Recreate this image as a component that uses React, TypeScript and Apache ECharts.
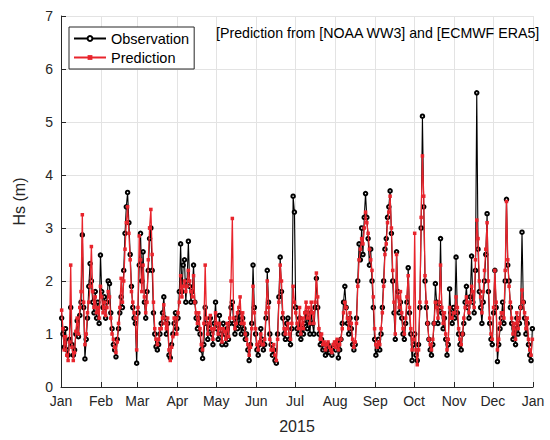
import React, { useEffect, useRef } from 'react';
import * as echarts from 'echarts';

// Month start positions (day of year) and their labels
const monthTicks = [0, 31, 59, 90, 120, 151, 181, 212, 243, 273, 304, 334, 365];
const monthLabels = ['Jan', 'Feb', 'Mar', 'Apr', 'May', 'Jun', 'Jul', 'Aug', 'Sep', 'Oct', 'Nov', 'Dec', 'Jan'];

// Daily significant wave height (m), 2015 - observation
const obsHs = [
  // Jan
  1.30, 1.00, 0.75, 1.10, 0.70, 0.60, 0.90, 1.50, 0.80, 0.60, 0.70, 1.00, 1.25, 0.95, 1.35, 1.60, 2.87, 1.50, 0.53, 0.90, 1.30, 1.90, 2.33, 2.00, 1.60, 1.40, 1.80, 1.30, 1.60, 1.20, 2.49,
  // Feb
  1.80, 1.50, 1.70, 1.30, 1.60, 2.00, 1.95, 1.40, 1.10, 0.80, 0.70, 0.57, 0.90, 1.10, 1.40, 1.70, 1.50, 2.20, 2.90, 3.40, 3.67, 3.10, 2.50, 1.90, 1.50, 1.30, 1.20, 0.45,
  // Mar
  1.40, 2.30, 2.90, 2.00, 2.55, 1.60, 1.30, 1.80, 2.20, 2.80, 3.00, 2.20, 1.40, 1.00, 0.76, 0.70, 0.80, 1.00, 1.20, 1.40, 1.70, 1.30, 1.00, 1.20, 0.60, 0.55, 0.80, 1.00, 1.20, 1.40, 1.10,
  // Apr
  1.30, 1.80, 2.70, 1.80, 2.30, 2.40, 1.60, 2.00, 2.75, 1.90, 1.60, 1.80, 2.30, 1.60, 1.30, 1.10, 1.30, 1.00, 0.70, 0.54, 0.80, 1.50, 1.20, 0.90, 1.10, 1.30, 1.00, 0.80, 1.20, 1.60,
  // May
  1.10, 0.90, 1.35, 1.00, 0.80, 1.20, 1.00, 0.80, 1.10, 0.90, 1.20, 1.50, 1.60, 1.20, 1.00, 1.30, 1.10, 1.40, 1.20, 1.00, 1.30, 1.10, 0.90, 1.00, 0.70, 0.50, 0.80, 1.20, 2.30, 1.50, 1.00,
  // Jun
  0.70, 0.60, 0.80, 1.10, 0.90, 0.70, 0.80, 1.30, 2.20, 1.60, 1.00, 0.80, 0.60, 0.70, 0.50, 0.45, 1.00, 1.70, 2.45, 1.80, 1.30, 1.00, 0.90, 1.20, 1.30, 0.90, 0.80, 1.10, 3.60, 3.30,
  // Jul
  1.50, 1.10, 1.00, 1.30, 0.90, 1.10, 1.00, 1.20, 1.40, 1.10, 1.30, 1.00, 1.40, 1.20, 1.00, 1.50, 2.05, 1.50, 1.00, 0.80, 0.90, 0.70, 0.75, 0.60, 0.70, 0.80, 0.65, 0.70, 0.60, 0.75, 0.80,
  // Aug
  0.70, 0.85, 0.55, 0.70, 0.90, 1.20, 1.60, 1.90, 1.50, 1.20, 1.00, 1.30, 1.10, 0.80, 0.70, 0.80, 1.30, 2.00, 2.70, 2.40, 3.00, 2.50, 3.20, 3.65, 3.20, 2.80, 2.30, 2.60, 2.00, 1.50, 0.90,
  // Sep
  0.60, 0.70, 0.90, 0.70, 1.00, 1.50, 2.00, 2.60, 2.80, 3.20, 3.40, 3.70, 2.90, 2.00, 1.40, 0.90, 2.55, 1.80, 1.40, 1.60, 1.30, 1.00, 0.90, 1.20, 1.60, 2.25, 1.40, 1.00, 0.50, 0.80,
  // Oct
  1.00, 0.60, 0.50, 0.80, 1.50, 3.00, 5.11, 3.40, 2.00, 1.50, 1.20, 0.90, 0.70, 0.60, 0.80, 1.20, 1.95, 1.60, 1.20, 1.50, 2.80, 1.40, 1.10, 1.30, 0.90, 0.60, 0.80, 1.85, 1.40, 1.20, 1.50,
  // Nov
  1.30, 2.45, 1.40, 1.00, 0.80, 0.70, 1.00, 1.20, 1.60, 1.90, 1.50, 1.30, 1.70, 2.47, 1.60, 1.40, 2.20, 5.55, 2.60, 1.80, 1.50, 1.20, 1.60, 2.00, 2.50, 3.27, 1.80, 1.20, 0.90, 0.80,
  // Dec
  1.40, 2.20, 1.50, 0.48, 0.80, 1.10, 1.30, 1.60, 1.20, 2.00, 3.54, 2.30, 2.00, 1.50, 1.20, 0.90, 1.10, 0.80, 1.30, 1.00, 1.20, 1.50, 2.92, 1.60, 1.30, 1.00, 1.20, 0.80, 0.60, 0.50, 1.10,
];

// Daily significant wave height (m), 2015 - prediction (NOAA WW3 / ECMWF ERA5)
const predHs = [
  // Jan
  1.45, 1.10, 0.70, 0.95, 0.60, 0.50, 0.85, 2.30, 0.75, 0.50, 0.65, 1.05, 1.30, 1.00, 1.50, 1.80, 3.25, 1.60, 0.80, 1.00, 1.40, 1.60, 1.90, 2.65, 1.80, 1.50, 1.70, 1.40, 1.50, 1.30, 1.90,
  // Feb
  1.70, 1.40, 1.60, 1.35, 1.50, 1.80, 1.70, 1.30, 1.00, 0.90, 0.75, 0.65, 0.85, 1.20, 1.50, 2.05, 1.60, 2.00, 2.60, 3.10, 3.40, 2.90, 2.40, 1.80, 1.60, 1.40, 1.30, 0.70,
  // Mar
  1.50, 2.85, 2.40, 1.80, 2.30, 1.70, 1.40, 1.60, 2.40, 3.00, 3.35, 2.50, 1.60, 1.10, 0.90, 0.80, 0.90, 1.10, 1.10, 1.30, 1.55, 1.20, 1.10, 1.30, 0.70, 0.50, 0.75, 0.95, 1.30, 1.30, 1.00,
  // Apr
  1.40, 1.60, 2.10, 1.70, 1.90, 2.00, 1.80, 1.90, 2.20, 2.00, 1.80, 1.70, 2.10, 1.60, 1.40, 1.20, 1.40, 1.10, 0.80, 0.70, 1.20, 2.30, 1.30, 1.00, 1.20, 1.35, 1.10, 0.90, 1.10, 1.40,
  // May
  1.20, 1.00, 1.20, 1.10, 0.85, 1.10, 1.05, 0.90, 1.20, 0.95, 1.30, 2.00, 3.18, 1.30, 1.10, 1.20, 1.40, 1.50, 1.70, 1.20, 1.40, 1.20, 1.00, 0.90, 0.80, 0.60, 0.75, 1.10, 1.90, 1.40, 1.10,
  // Jun
  0.80, 0.70, 0.85, 1.00, 0.80, 0.80, 0.90, 1.40, 2.00, 1.50, 0.90, 0.70, 0.70, 0.80, 0.60, 0.50, 0.90, 1.60, 2.30, 2.00, 1.40, 1.10, 1.00, 1.10, 1.20, 1.00, 0.90, 1.20, 1.90, 1.60,
  // Jul
  1.40, 1.20, 1.10, 1.50, 1.00, 1.30, 1.10, 1.40, 1.60, 1.30, 1.50, 1.20, 1.60, 1.40, 1.20, 1.60, 2.15, 1.70, 1.10, 0.90, 1.00, 0.80, 0.85, 0.70, 0.80, 0.85, 0.75, 0.70, 0.65, 0.80, 0.85,
  // Aug
  0.75, 0.90, 0.70, 0.80, 0.90, 1.10, 1.40, 1.60, 1.50, 1.30, 1.10, 1.40, 1.20, 0.90, 0.75, 0.85, 1.20, 1.90, 2.40, 2.60, 2.80, 2.70, 3.00, 3.30, 3.10, 2.90, 2.60, 2.40, 2.20, 1.70, 1.10,
  // Sep
  0.80, 0.75, 0.85, 0.80, 1.10, 1.40, 1.90, 2.50, 2.70, 3.10, 3.30, 3.60, 3.00, 2.20, 1.60, 1.00, 2.50, 1.70, 1.50, 1.80, 1.40, 1.10, 1.00, 1.30, 1.70, 2.10, 1.50, 1.10, 0.70, 0.90,
  // Oct
  2.90, 0.70, 0.42, 0.70, 1.60, 3.20, 4.36, 3.60, 2.10, 1.60, 1.20, 0.90, 0.80, 0.70, 0.90, 1.20, 1.60, 1.50, 1.30, 1.60, 2.30, 1.50, 1.20, 1.40, 1.00, 0.70, 0.90, 1.50, 1.30, 1.30, 1.40,
  // Nov
  1.40, 1.70, 1.50, 1.10, 0.90, 0.80, 1.00, 1.30, 1.50, 1.70, 1.60, 1.40, 1.60, 1.90, 1.80, 1.50, 2.40, 3.15, 2.80, 2.00, 1.70, 1.40, 1.80, 2.20, 2.60, 3.10, 2.00, 1.30, 1.00, 0.90,
  // Dec
  1.50, 2.20, 1.60, 0.70, 0.90, 1.20, 1.40, 1.40, 1.30, 2.20, 3.50, 2.40, 1.90, 1.60, 1.30, 1.00, 1.20, 0.90, 1.40, 1.10, 1.30, 1.50, 1.83, 1.60, 1.40, 1.10, 1.30, 0.90, 0.70, 0.60, 0.90,
];

const FONT = "'Liberation Sans', Arial, Helvetica, sans-serif";
const AXIS_COLOR = '#262626';
const GRID_COLOR = '#e3e3e3';
const RED = '#e8242c';

export default function App() {
  const ref = useRef<HTMLDivElement>(null);

  useEffect(() => {
    if (!ref.current) return;
    const chart = echarts.init(ref.current, null, { renderer: 'svg' });
    const obsData = obsHs.map((v, i) => [i + 0.5, v]);
    const predData = predHs.map((v, i) => [i + 0.5, v]);

    chart.setOption({
      animation: false,
      backgroundColor: '#ffffff',
      textStyle: { fontFamily: FONT },
      grid: { left: 61, right: 17, top: 16, bottom: 53, containLabel: false },
      xAxis: {
        type: 'value',
        min: 0,
        max: 365,
        name: '2015',
        nameLocation: 'middle',
        nameGap: 31,
        nameTextStyle: { fontSize: 16, color: AXIS_COLOR, fontFamily: FONT },
        axisLine: { show: true, onZero: false, lineStyle: { color: AXIS_COLOR, width: 1 } },
        axisTick: { show: true, inside: true, length: 5, customValues: monthTicks, lineStyle: { color: AXIS_COLOR } },
        axisLabel: {
          customValues: monthTicks,
          formatter: (v: number) => monthLabels[monthTicks.indexOf(v)] ?? '',
          color: AXIS_COLOR,
          fontSize: 14,
          margin: 7,
          fontFamily: FONT,
        },
        splitLine: { show: true, lineStyle: { color: GRID_COLOR, width: 1 } },
      },
      yAxis: {
        type: 'value',
        min: 0,
        max: 7,
        interval: 1,
        name: 'Hs (m)',
        nameLocation: 'middle',
        nameGap: 34,
        nameRotate: 90,
        nameTextStyle: { fontSize: 16, color: AXIS_COLOR, fontFamily: FONT },
        axisLine: { show: true, lineStyle: { color: AXIS_COLOR, width: 1 } },
        axisTick: { show: true, inside: true, length: 5, lineStyle: { color: AXIS_COLOR } },
        axisLabel: { color: AXIS_COLOR, fontSize: 14, margin: 8, fontFamily: FONT },
        splitLine: { show: true, lineStyle: { color: GRID_COLOR, width: 1 } },
      },
      legend: {
        data: ['Observation', 'Prediction'],
        orient: 'vertical',
        left: 69,
        top: 27,
        itemWidth: 32,
        itemHeight: 6,
        itemGap: 4,
        padding: [4, 5, 4, 4],
        backgroundColor: '#ffffff',
        borderColor: AXIS_COLOR,
        borderWidth: 1,
        borderRadius: 0,
        textStyle: { fontSize: 14.5, color: '#000000', fontFamily: FONT },
      },
      graphic: [
        {
          type: 'text',
          left: 216,
          top: 26,
          style: {
            text: '[Prediction from [NOAA WW3] and [ECMWF ERA5]',
            fontSize: 14.2,
            fill: '#000000',
            fontFamily: FONT,
          },
          z: 100,
        },
      ],
      series: [
        {
          name: 'Observation',
          type: 'line',
          data: obsData,
          symbol: 'emptyCircle',
          symbolSize: 3.5,
          showAllSymbol: true,
          lineStyle: { color: '#000000', width: 1.1 },
          itemStyle: { color: '#000000', borderColor: '#000000', borderWidth: 1 },
          z: 2,
        },
        {
          name: 'Prediction',
          type: 'line',
          data: predData,
          symbol: 'rect',
          symbolSize: 3.5,
          showAllSymbol: true,
          lineStyle: { color: RED, width: 1.3 },
          itemStyle: { color: RED },
          z: 3,
        },
      ],
    });
    return () => chart.dispose();
  }, []);

  return <div ref={ref} style={{ position: 'absolute', left: 0, top: 0, width: 550, height: 440 }} />;
}
